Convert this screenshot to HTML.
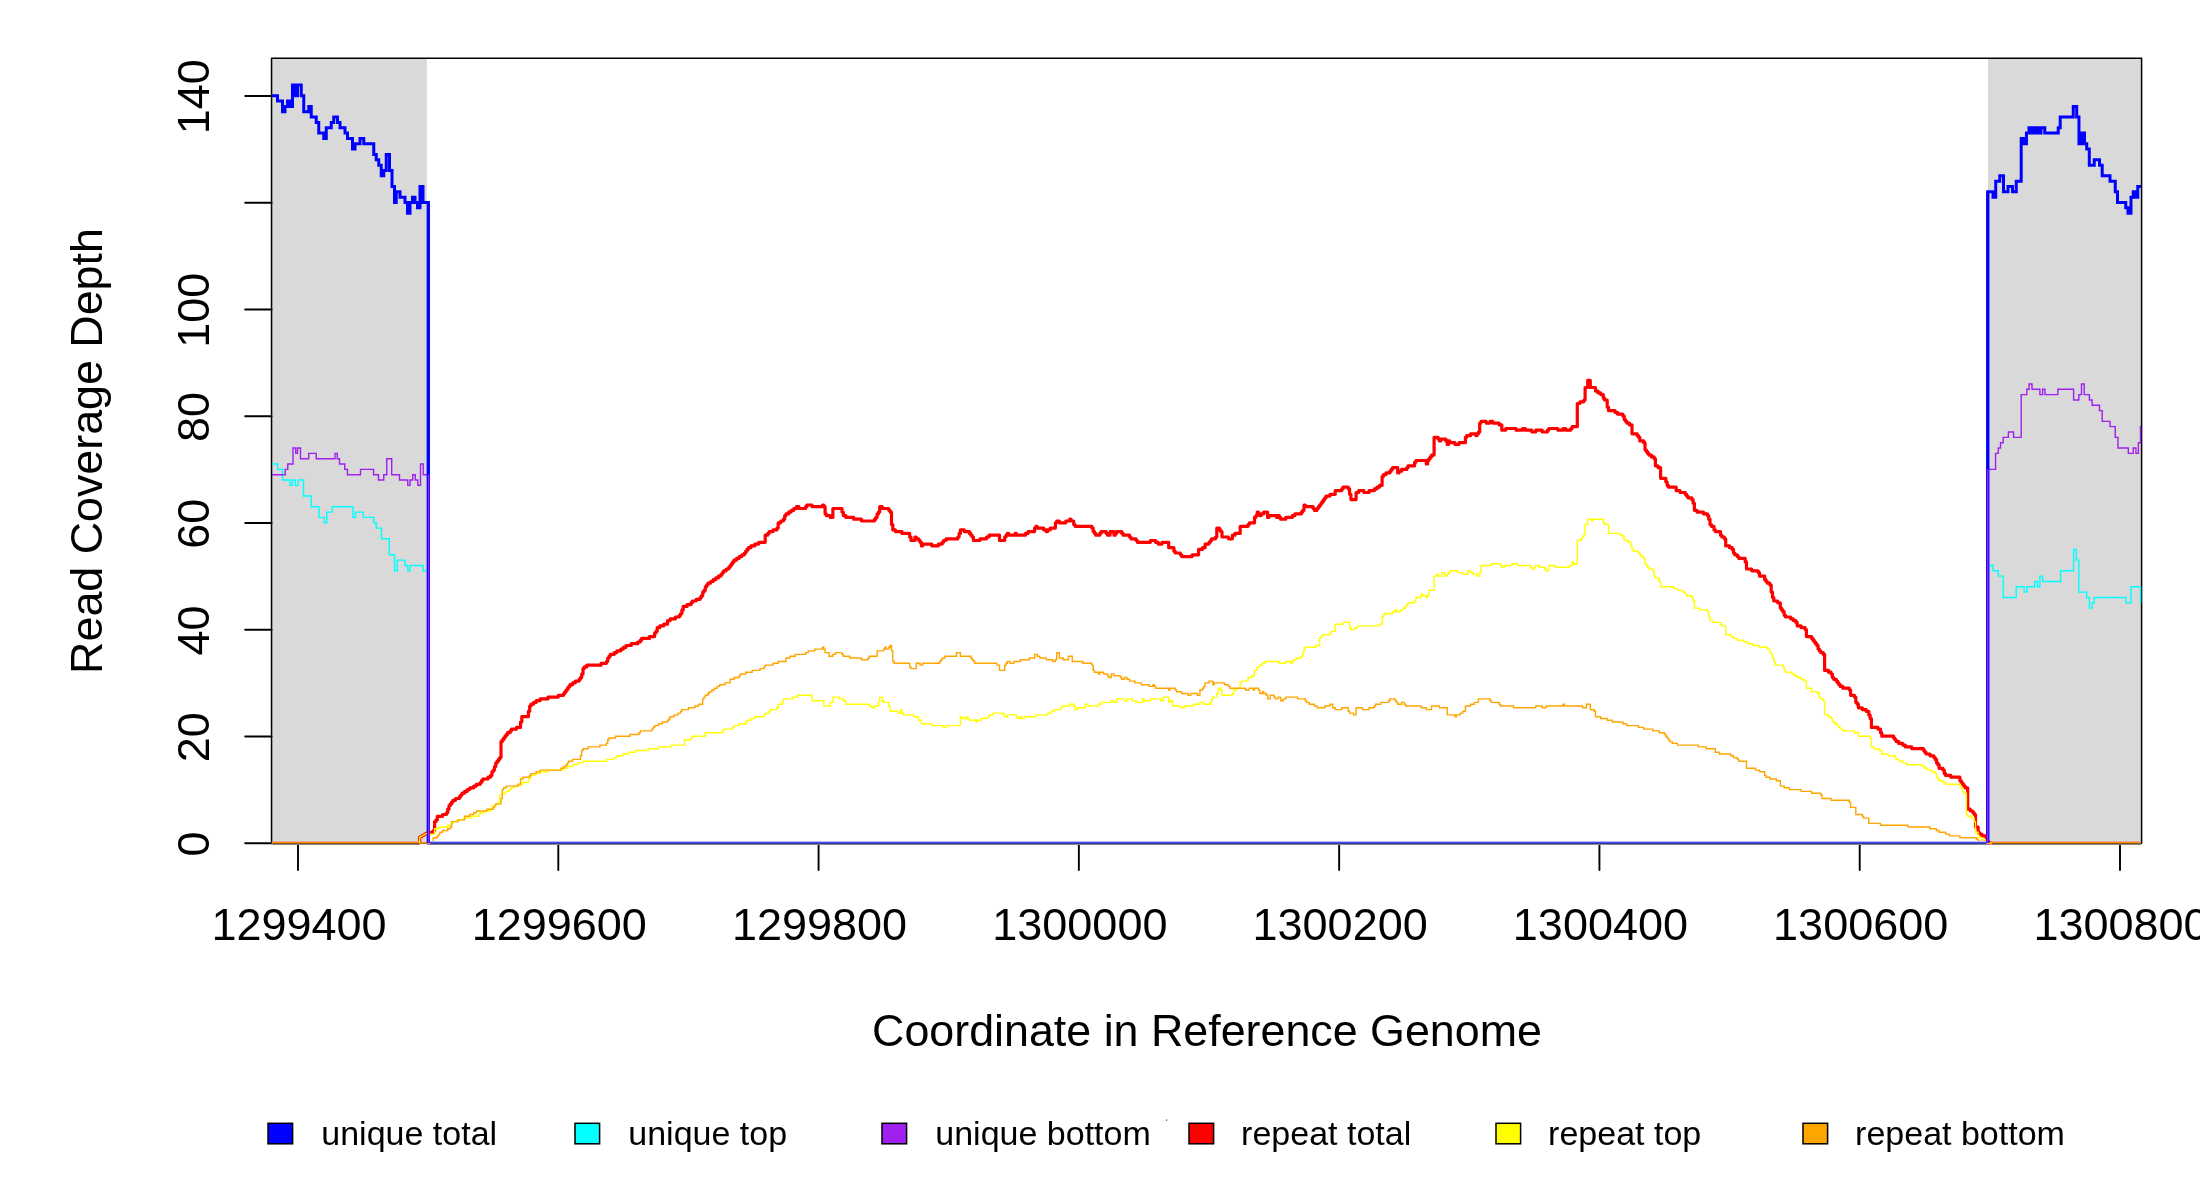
<!DOCTYPE html><html><head><meta charset="utf-8"><title>Read Coverage Depth</title><style>
html,body{margin:0;padding:0;background:#fff;}body{width:2200px;height:1200px;overflow:hidden;}svg{display:block;will-change:transform;transform:translateZ(0);}text{font-family:"Liberation Sans",sans-serif;fill:#000;}
</style></head><body>
<svg width="2200" height="1200" viewBox="0 0 2200 1200">
<rect x="0" y="0" width="2200" height="1200" fill="#fff"/>
<rect x="271.75" y="58.5" width="155.1" height="784.5" fill="#d9d9d9"/>
<rect x="1988" y="58.5" width="153" height="784.5" fill="#d9d9d9"/>
<rect x="271.55" y="58.3" width="1870.05" height="785" fill="none" stroke="#000" stroke-width="1.5" stroke-linejoin="round"/>
<g stroke="#000" stroke-width="1.9" fill="none" stroke-linecap="round"><path d="M298.00 843.2V870"/><path d="M558.29 843.2V870"/><path d="M818.57 843.2V870"/><path d="M1078.86 843.2V870"/><path d="M1339.14 843.2V870"/><path d="M1599.43 843.2V870"/><path d="M1859.71 843.2V870"/><path d="M2120.00 843.2V870"/><path d="M271.55 843.20H245.2"/><path d="M271.55 736.45H245.2"/><path d="M271.55 629.70H245.2"/><path d="M271.55 522.95H245.2"/><path d="M271.55 416.20H245.2"/><path d="M271.55 309.45H245.2"/><path d="M271.55 202.70H245.2"/><path d="M271.55 95.95H245.2"/></g>
<g fill="none" stroke-linejoin="miter" stroke-linecap="butt">
<path d="M271.75 95.75H277.50V101.09H282.50V111.76H285.00V106.42H287.50V101.09H290.00V106.42H292.50V85.07H295.00V95.75H297.50V85.07H301.25V95.75H303.75V111.76H308.75V106.42H311.25V117.10H316.25V122.44H318.75V133.11H323.75V138.45H326.25V127.77H331.25V122.44H333.75V117.10H337.50V122.44H340.00V127.77H345.00V133.11H347.50V138.45H352.50V149.12H355.00V143.79H360.00V138.45H363.75V143.79H373.75V154.46H376.25V159.80H378.75V165.14H381.25V175.81H383.75V170.47H386.25V154.46H389.50V170.47H392.00V186.49H394.50V202.50H396.25V191.82H400.00V197.16H405.00V202.50H407.50V213.17H410.00V202.50H412.50V197.16H415.00V202.50H417.50V207.84H420.00V186.49H423.00V202.50H428.30V843.00H1987.75V191.82H1993.00V197.16H1995.70V181.15H1999.75V175.81H2003.50V191.82H2008.00V186.49H2012.50V191.82H2016.25V181.15H2021.20V138.45H2023.75V143.79H2026.45V133.11H2029.00V127.77H2031.25V133.11H2033.00V127.77H2034.50V133.11H2036.00V127.77H2037.50V133.11H2039.00V127.77H2040.00V133.11H2041.00V127.77H2044.75V133.11H2058.25V127.77H2060.20V117.10H2073.25V106.42H2076.70V117.10H2078.95V143.79H2080.75V133.11H2082.00V143.79H2083.00V133.11H2084.50V143.79H2086.75V149.12H2089.30V165.14H2094.25V159.80H2099.50V165.14H2102.20V175.81H2110.00V181.15H2115.25V191.82H2117.50V202.50H2125.75V207.84H2128.00V213.17H2131.00V197.16H2133.25V191.82H2135.50V197.16H2137.75V186.49H2141.00V186.49" stroke="#0000ff" stroke-width="3"/>
<path d="M272.00 464.04H277.70V469.38H282.50V480.05H290.00V485.39H292.25V480.05H295.25V485.39H298.25V480.05H303.50V496.06H311.30V506.74H318.95V517.41H324.20V522.75H326.75V512.08H332.30V506.74H353.00V517.41H355.55V512.08H363.20V517.41H373.70V522.75H376.25V528.09H381.50V538.76H389.30V554.77H394.55V570.79H397.25V560.11H405.05V565.45H407.75V570.79H410.00V565.45H423.20V570.79H428.00V843.00H1988.00V565.45H1993.10V570.79H1998.25V576.12H2003.20V597.48H2016.25V586.80H2024.10V592.14H2026.80V586.80H2034.70V581.46H2037.60V586.80H2039.90V576.12H2042.60V581.46H2060.60V570.79H2073.60V549.44H2076.30V560.11H2078.80V592.14H2086.70V597.48H2089.40V608.15H2092.10V602.81H2094.30V597.48H2125.80V602.81H2131.00V586.80H2140.50V602.81H2141.00V602.81" stroke="#00ffff" stroke-width="1.4"/>
<path d="M272.00 474.71H285.20V469.38H287.75V464.04H293.00V448.02H295.70V453.36H297.50V448.02H300.50V458.70H308.75V453.36H316.25V458.70H335.00V453.36H337.25V458.70H339.50V464.04H344.75V469.38H347.45V474.71H360.50V469.38H373.55V474.71H378.50V480.05H383.75V474.71H386.75V458.70H391.70V474.71H399.50V480.05H407.75V485.39H410.00V480.05H412.70V474.71H415.25V480.05H417.80V485.39H420.50V464.04H423.20V474.71H428.00V843.00H1988.00V469.38H1995.55V453.36H1998.25V448.02H2000.50V442.69H2003.20V437.35H2008.40V432.01H2013.55V437.35H2021.20V394.65H2026.80V389.31H2029.10V383.97H2032.00V389.31H2039.90V394.65H2042.60V389.31H2045.00V394.65H2057.90V389.31H2073.60V399.99H2078.80V394.65H2081.50V383.97H2084.20V394.65H2089.40V399.99H2092.10V405.32H2099.50V410.66H2102.20V421.34H2110.00V426.67H2115.25V437.35H2117.95V448.02H2128.30V453.36H2133.25V448.02H2135.95V453.36H2138.40V442.69H2140.50V426.67H2141.00V426.67" stroke="#a020f0" stroke-width="1.4"/>
<path d="M271.8 843.0L419.6 843.0L419.6 837.5L426.5 833.5L428.1 832.3L432.0 832.3L433.3 832.3L433.3 830.5L434.6 830.5L434.6 821.6L436.0 821.6L436.0 819.9L437.3 819.9L437.3 816.3L441.2 816.3L442.5 816.3L442.5 814.5L445.1 814.5L446.4 814.5L446.4 812.8L447.7 812.8L447.7 809.2L449.0 809.2L449.0 805.6L450.3 805.6L450.3 803.9L451.6 803.9L451.6 802.1L452.9 802.1L452.9 800.3L454.2 800.3L455.5 800.3L455.5 798.5L458.1 798.5L459.4 798.5L459.4 796.7L460.7 796.7L460.7 795.0L462.0 795.0L462.0 793.2L463.3 793.2L464.6 793.2L464.6 791.4L465.9 791.4L467.2 791.4L467.2 789.6L468.5 789.6L469.8 789.6L469.8 787.8L472.4 787.8L473.7 787.8L473.7 786.1L475.0 786.1L476.3 786.1L476.3 784.3L478.9 784.3L480.2 784.3L480.2 782.5L481.5 782.5L481.5 780.7L482.8 780.7L482.8 779.0L486.7 779.0L488.0 779.0L488.0 777.2L489.3 777.2L490.6 777.2L490.6 775.4L491.9 775.4L491.9 771.8L493.2 771.8L493.2 770.1L494.5 770.1L494.5 766.5L495.8 766.5L495.8 762.9L497.1 762.9L497.1 761.2L498.4 761.2L498.4 759.4L499.7 759.4L499.7 757.6L501.0 757.6L501.0 741.6L502.3 741.6L502.3 739.8L503.6 739.8L503.6 738.0L504.9 738.0L504.9 736.2L506.2 736.2L506.2 734.5L507.5 734.5L507.5 732.7L508.8 732.7L510.1 732.7L510.1 730.9L511.4 730.9L511.4 729.1L515.3 729.1L516.6 729.1L516.6 727.4L519.2 727.4L520.5 727.4L520.5 722.0L521.8 722.0L521.8 716.7L527.1 716.7L528.4 716.7L528.4 711.3L529.7 711.3L529.7 706.0L531.0 706.0L531.0 704.2L532.3 704.2L533.6 704.2L533.6 702.4L534.9 702.4L536.2 702.4L536.2 700.7L538.8 700.7L540.1 700.7L540.1 698.9L546.6 698.9L547.9 698.9L547.9 697.1L557.0 697.1L558.3 697.1L558.3 695.3L562.2 695.3L563.5 695.3L563.5 693.5L564.8 693.5L564.8 691.8L566.1 691.8L566.1 690.0L567.4 690.0L567.4 688.2L568.7 688.2L568.7 686.4L570.0 686.4L570.0 684.7L571.3 684.7L572.6 684.7L572.6 682.9L573.9 682.9L575.2 682.9L575.2 681.1L577.8 681.1L579.1 681.1L579.1 679.3L580.4 679.3L580.4 677.5L581.7 677.5L581.7 674.0L583.0 674.0L583.0 668.6L584.3 668.6L584.3 666.9L585.6 666.9L586.9 666.9L586.9 665.1L599.9 665.1L601.2 665.1L601.2 663.3L605.1 663.3L606.4 663.3L606.4 661.5L607.7 661.5L607.7 658.0L609.0 658.0L609.0 656.2L610.3 656.2L610.3 654.4L612.9 654.4L614.2 654.4L614.2 652.6L615.5 652.6L616.8 652.6L616.8 650.9L619.5 650.9L620.8 650.9L620.8 649.1L622.1 649.1L623.4 649.1L623.4 647.3L624.7 647.3L626.0 647.3L626.0 645.5L629.9 645.5L631.2 645.5L631.2 643.7L636.4 643.7L637.7 643.7L637.7 642.0L639.0 642.0L640.3 642.0L640.3 640.2L641.6 640.2L641.6 638.4L648.1 638.4L649.4 638.4L649.4 636.6L653.3 636.6L654.6 636.6L654.6 633.1L655.9 633.1L655.9 631.3L657.2 631.3L657.2 627.7L658.5 627.7L659.8 627.7L659.8 625.9L662.4 625.9L663.7 625.9L663.7 624.2L666.3 624.2L667.6 624.2L667.6 620.6L668.9 620.6L670.2 620.6L670.2 618.8L674.1 618.8L675.4 618.8L675.4 617.0L678.0 617.0L679.3 617.0L679.3 615.3L680.6 615.3L680.6 613.5L681.9 613.5L681.9 609.9L683.2 609.9L683.2 606.4L685.8 606.4L687.1 606.4L687.1 604.6L689.7 604.6L691.0 604.6L691.0 602.8L692.3 602.8L692.3 601.0L694.9 601.0L696.2 601.0L696.2 599.3L698.8 599.3L700.1 599.3L700.1 597.5L701.4 597.5L701.4 595.7L702.7 595.7L702.7 592.1L704.0 592.1L704.0 590.4L705.3 590.4L705.3 586.8L706.6 586.8L706.6 585.0L707.9 585.0L707.9 583.2L709.3 583.2L710.6 583.2L710.6 581.5L711.9 581.5L713.2 581.5L713.2 579.7L714.5 579.7L715.8 579.7L715.8 577.9L717.1 577.9L718.4 577.9L718.4 576.1L719.7 576.1L721.0 576.1L721.0 574.3L722.3 574.3L722.3 572.6L723.6 572.6L723.6 570.8L724.9 570.8L726.2 570.8L726.2 569.0L727.5 569.0L728.8 569.0L728.8 567.2L730.1 567.2L730.1 565.5L731.4 565.5L731.4 563.7L732.7 563.7L732.7 561.9L734.0 561.9L734.0 560.1L735.3 560.1L736.6 560.1L736.6 558.3L737.9 558.3L739.2 558.3L739.2 556.6L740.5 556.6L741.8 556.6L741.8 554.8L743.1 554.8L744.4 554.8L744.4 553.0L745.7 553.0L745.7 551.2L747.0 551.2L747.0 549.4L748.3 549.4L748.3 547.7L749.6 547.7L750.9 547.7L750.9 545.9L753.5 545.9L754.8 545.9L754.8 544.1L757.4 544.1L758.7 544.1L758.7 542.3L763.9 542.3L765.2 542.3L765.2 535.2L766.5 535.2L767.8 535.2L767.8 533.4L769.1 533.4L769.1 531.6L771.7 531.6L773.0 531.6L773.0 529.9L775.6 529.9L776.9 529.9L776.9 528.1L778.2 528.1L778.2 522.8L779.5 522.8L780.8 522.8L780.8 521.0L782.1 521.0L783.4 521.0L783.4 519.2L784.7 519.2L784.7 515.6L786.0 515.6L786.0 513.9L787.3 513.9L788.6 513.9L788.6 512.1L789.9 512.1L791.2 512.1L791.2 510.3L792.5 510.3L793.8 510.3L793.8 508.5L795.1 508.5L796.4 508.5L796.4 506.7L797.7 506.7L799.0 506.7L799.0 508.5L804.3 508.5L805.6 508.5L805.6 506.7L806.9 506.7L806.9 505.0L810.8 505.0L812.1 505.0L812.1 506.7L821.2 506.7L822.5 506.7L822.5 505.0L823.8 505.0L823.8 506.7L825.1 506.7L825.1 513.9L826.4 513.9L826.4 515.6L829.0 515.6L830.3 515.6L830.3 517.4L831.6 517.4L832.9 517.4L832.9 508.5L840.7 508.5L842.0 508.5L842.0 512.1L843.3 512.1L843.3 515.6L844.6 515.6L845.9 515.6L845.9 517.4L852.4 517.4L853.7 517.4L853.7 519.2L860.2 519.2L861.5 519.2L861.5 521.0L873.2 521.0L874.5 521.0L874.5 519.2L875.8 519.2L875.8 517.4L877.1 517.4L877.1 513.9L878.4 513.9L878.4 512.1L879.7 512.1L879.7 506.7L881.0 506.7L882.3 506.7L882.3 508.5L887.5 508.5L888.8 508.5L888.8 510.3L890.1 510.3L890.1 512.1L891.5 512.1L891.5 524.5L892.8 524.5L892.8 529.9L894.1 529.9L895.4 529.9L895.4 531.6L900.6 531.6L901.9 531.6L901.9 533.4L908.4 533.4L909.7 533.4L909.7 537.0L911.0 537.0L911.0 540.5L913.6 540.5L914.9 540.5L914.9 537.0L916.2 537.0L916.2 538.8L917.5 538.8L918.8 538.8L918.8 540.5L920.1 540.5L920.1 542.3L921.4 542.3L921.4 545.9L922.7 545.9L922.7 544.1L930.5 544.1L931.8 544.1L931.8 545.9L937.0 545.9L938.3 545.9L938.3 544.1L940.9 544.1L942.2 544.1L942.2 542.3L943.5 542.3L943.5 540.5L944.8 540.5L946.1 540.5L946.1 538.8L956.5 538.8L957.8 538.8L957.8 537.0L959.1 537.0L959.1 533.4L960.4 533.4L960.4 529.9L963.0 529.9L964.3 529.9L964.3 531.6L968.2 531.6L969.5 531.6L969.5 533.4L970.8 533.4L970.8 535.2L972.1 535.2L972.1 537.0L973.4 537.0L973.4 540.5L978.6 540.5L979.9 540.5L979.9 538.8L985.2 538.8L986.5 538.8L986.5 537.0L987.8 537.0L989.1 537.0L989.1 535.2L998.2 535.2L999.5 535.2L999.5 540.5L1003.4 540.5L1004.7 540.5L1004.7 537.0L1006.0 537.0L1006.0 535.2L1007.3 535.2L1007.3 533.4L1008.6 533.4L1008.6 535.2L1013.8 535.2L1015.1 535.2L1015.1 533.4L1016.4 533.4L1016.4 535.2L1024.2 535.2L1025.5 535.2L1025.5 533.4L1026.8 533.4L1028.1 533.4L1028.1 531.6L1033.3 531.6L1034.6 531.6L1034.6 528.1L1035.9 528.1L1035.9 526.3L1037.2 526.3L1037.2 528.1L1042.4 528.1L1043.7 528.1L1043.7 529.9L1045.0 529.9L1046.3 529.9L1046.3 531.6L1047.6 531.6L1047.6 529.9L1048.9 529.9L1050.2 529.9L1050.2 528.1L1054.1 528.1L1055.4 528.1L1055.4 522.8L1056.7 522.8L1056.7 521.0L1058.0 521.0L1059.3 521.0L1059.3 522.8L1064.5 522.8L1065.8 522.8L1065.8 521.0L1068.4 521.0L1069.7 521.0L1069.7 519.2L1071.0 519.2L1071.0 521.0L1072.3 521.0L1073.7 521.0L1073.7 524.5L1075.0 524.5L1075.0 526.3L1090.6 526.3L1091.9 526.3L1091.9 528.1L1093.2 528.1L1093.2 531.6L1094.5 531.6L1094.5 533.4L1095.8 533.4L1095.8 535.2L1098.4 535.2L1099.7 535.2L1099.7 533.4L1101.0 533.4L1101.0 531.6L1104.9 531.6L1106.2 531.6L1106.2 533.4L1107.5 533.4L1107.5 535.2L1108.8 535.2L1110.1 535.2L1110.1 531.6L1112.7 531.6L1114.0 531.6L1114.0 535.2L1115.3 535.2L1115.3 533.4L1116.6 533.4L1116.6 531.6L1120.5 531.6L1121.8 531.6L1121.8 533.4L1123.1 533.4L1123.1 535.2L1128.3 535.2L1129.6 535.2L1129.6 537.0L1130.9 537.0L1130.9 538.8L1134.8 538.8L1136.1 538.8L1136.1 540.5L1137.4 540.5L1137.4 542.3L1149.1 542.3L1150.4 542.3L1150.4 540.5L1154.3 540.5L1155.6 540.5L1155.6 542.3L1156.9 542.3L1158.2 542.3L1158.2 544.1L1160.8 544.1L1162.1 544.1L1162.1 542.3L1167.4 542.3L1168.7 542.3L1168.7 547.7L1172.6 547.7L1173.9 547.7L1173.9 551.2L1175.2 551.2L1175.2 553.0L1179.1 553.0L1180.4 553.0L1180.4 554.8L1181.7 554.8L1181.7 556.6L1190.8 556.6L1192.1 556.6L1192.1 554.8L1197.3 554.8L1198.6 554.8L1198.6 549.4L1201.2 549.4L1202.5 549.4L1202.5 547.7L1203.8 547.7L1205.1 547.7L1205.1 544.1L1207.7 544.1L1209.0 544.1L1209.0 542.3L1210.3 542.3L1210.3 540.5L1211.6 540.5L1211.6 538.8L1214.2 538.8L1215.5 538.8L1215.5 537.0L1216.8 537.0L1216.8 528.1L1218.1 528.1L1219.4 528.1L1219.4 529.9L1220.7 529.9L1220.7 531.6L1222.0 531.6L1222.0 537.0L1227.2 537.0L1228.5 537.0L1228.5 538.8L1231.1 538.8L1232.4 538.8L1232.4 535.2L1233.7 535.2L1235.0 535.2L1235.0 533.4L1238.9 533.4L1240.2 533.4L1240.2 526.3L1246.7 526.3L1248.0 526.3L1248.0 524.5L1249.3 524.5L1249.3 522.8L1253.2 522.8L1254.5 522.8L1254.5 517.4L1255.9 517.4L1255.9 515.6L1257.2 515.6L1257.2 512.1L1258.5 512.1L1258.5 513.9L1259.8 513.9L1259.8 515.6L1261.1 515.6L1261.1 513.9L1262.4 513.9L1263.7 513.9L1263.7 512.1L1266.3 512.1L1267.6 512.1L1267.6 517.4L1268.9 517.4L1268.9 515.6L1275.4 515.6L1276.7 515.6L1276.7 517.4L1278.0 517.4L1278.0 515.6L1279.3 515.6L1279.3 517.4L1280.6 517.4L1280.6 519.2L1284.5 519.2L1285.8 519.2L1285.8 517.4L1291.0 517.4L1292.3 517.4L1292.3 515.6L1293.6 515.6L1294.9 515.6L1294.9 513.9L1300.1 513.9L1301.4 513.9L1301.4 512.1L1302.7 512.1L1302.7 510.3L1304.0 510.3L1304.0 505.0L1305.3 505.0L1305.3 506.7L1311.8 506.7L1313.1 506.7L1313.1 508.5L1314.4 508.5L1314.4 510.3L1315.7 510.3L1317.0 510.3L1317.0 508.5L1318.3 508.5L1318.3 506.7L1319.6 506.7L1319.6 505.0L1320.9 505.0L1320.9 503.2L1322.2 503.2L1322.2 501.4L1323.5 501.4L1323.5 499.6L1324.8 499.6L1324.8 497.8L1326.1 497.8L1326.1 496.1L1328.7 496.1L1330.0 496.1L1330.0 494.3L1333.9 494.3L1335.2 494.3L1335.2 490.7L1340.4 490.7L1341.7 490.7L1341.7 488.9L1343.0 488.9L1343.0 487.2L1347.0 487.2L1348.3 487.2L1348.3 488.9L1349.6 488.9L1349.6 494.3L1350.9 494.3L1350.9 499.6L1354.8 499.6L1356.1 499.6L1356.1 492.5L1357.4 492.5L1358.7 492.5L1358.7 490.7L1362.6 490.7L1363.9 490.7L1363.9 492.5L1367.8 492.5L1369.1 492.5L1369.1 490.7L1373.0 490.7L1374.3 490.7L1374.3 488.9L1375.6 488.9L1376.9 488.9L1376.9 487.2L1378.2 487.2L1379.5 487.2L1379.5 485.4L1380.8 485.4L1382.1 485.4L1382.1 476.5L1383.4 476.5L1383.4 474.7L1384.7 474.7L1386.0 474.7L1386.0 472.9L1388.6 472.9L1389.9 472.9L1389.9 471.2L1391.2 471.2L1391.2 469.4L1392.5 469.4L1392.5 467.6L1396.4 467.6L1397.7 467.6L1397.7 472.9L1399.0 472.9L1399.0 471.2L1400.3 471.2L1401.6 471.2L1401.6 469.4L1405.5 469.4L1406.8 469.4L1406.8 467.6L1408.1 467.6L1408.1 465.8L1413.3 465.8L1414.6 465.8L1414.6 462.3L1415.9 462.3L1415.9 460.5L1425.0 460.5L1426.3 460.5L1426.3 464.0L1427.6 464.0L1427.6 460.5L1428.9 460.5L1428.9 458.7L1430.2 458.7L1430.2 456.9L1431.5 456.9L1431.5 455.1L1432.8 455.1L1434.1 455.1L1434.1 437.3L1436.7 437.3L1438.1 437.3L1438.1 439.1L1439.4 439.1L1439.4 440.9L1440.7 440.9L1440.7 439.1L1444.6 439.1L1445.9 439.1L1445.9 440.9L1447.2 440.9L1447.2 444.5L1448.5 444.5L1448.5 440.9L1449.8 440.9L1449.8 442.7L1453.7 442.7L1455.0 442.7L1455.0 444.5L1457.6 444.5L1458.9 444.5L1458.9 442.7L1464.1 442.7L1465.4 442.7L1465.4 437.3L1466.7 437.3L1466.7 435.6L1469.3 435.6L1470.6 435.6L1470.6 433.8L1474.5 433.8L1475.8 433.8L1475.8 435.6L1477.1 435.6L1477.1 433.8L1478.4 433.8L1478.4 432.0L1479.7 432.0L1479.7 423.1L1481.0 423.1L1481.0 421.3L1484.9 421.3L1486.2 421.3L1486.2 423.1L1488.8 423.1L1490.1 423.1L1490.1 421.3L1491.4 421.3L1492.7 421.3L1492.7 423.1L1497.9 423.1L1499.2 423.1L1499.2 424.9L1500.5 424.9L1501.8 424.9L1501.8 430.2L1504.4 430.2L1505.7 430.2L1505.7 428.5L1514.8 428.5L1516.1 428.5L1516.1 430.2L1521.3 430.2L1522.6 430.2L1522.6 428.5L1523.9 428.5L1525.2 428.5L1525.2 430.2L1530.5 430.2L1531.8 430.2L1531.8 432.0L1534.4 432.0L1535.7 432.0L1535.7 430.2L1540.9 430.2L1542.2 430.2L1542.2 432.0L1546.1 432.0L1547.4 432.0L1547.4 430.2L1548.7 430.2L1548.7 428.5L1556.5 428.5L1557.8 428.5L1557.8 430.2L1561.7 430.2L1563.0 430.2L1563.0 428.5L1564.3 428.5L1565.6 428.5L1565.6 430.2L1569.5 430.2L1570.8 430.2L1570.8 428.5L1572.1 428.5L1572.1 426.7L1576.0 426.7L1577.3 426.7L1577.3 403.5L1578.6 403.5L1579.9 403.5L1579.9 401.8L1582.5 401.8L1583.8 401.8L1583.8 400.0L1585.1 400.0L1585.1 387.5L1586.4 387.5L1587.7 387.5L1587.7 380.4L1589.0 380.4L1590.3 380.4L1590.3 387.5L1594.2 387.5L1595.5 387.5L1595.5 391.1L1596.8 391.1L1598.1 391.1L1598.1 392.9L1599.4 392.9L1600.7 392.9L1600.7 394.6L1602.0 394.6L1603.3 394.6L1603.3 398.2L1604.6 398.2L1604.6 400.0L1605.9 400.0L1607.2 400.0L1607.2 407.1L1608.5 407.1L1608.5 410.7L1613.7 410.7L1615.0 410.7L1615.0 412.4L1616.3 412.4L1617.6 412.4L1617.6 414.2L1621.6 414.2L1622.9 414.2L1622.9 416.0L1624.2 416.0L1624.2 419.6L1625.5 419.6L1625.5 421.3L1626.8 421.3L1626.8 423.1L1628.1 423.1L1629.4 423.1L1629.4 424.9L1630.7 424.9L1632.0 424.9L1632.0 433.8L1635.9 433.8L1637.2 433.8L1637.2 435.6L1638.5 435.6L1638.5 437.3L1639.8 437.3L1639.8 440.9L1642.4 440.9L1643.7 440.9L1643.7 442.7L1645.0 442.7L1645.0 449.8L1646.3 449.8L1646.3 451.6L1647.6 451.6L1647.6 453.4L1648.9 453.4L1648.9 455.1L1650.2 455.1L1651.5 455.1L1651.5 456.9L1652.8 456.9L1654.1 456.9L1654.1 458.7L1655.4 458.7L1655.4 465.8L1656.7 465.8L1658.0 465.8L1658.0 467.6L1659.3 467.6L1660.6 467.6L1660.6 478.3L1664.5 478.3L1665.8 478.3L1665.8 481.8L1667.1 481.8L1667.1 485.4L1668.4 485.4L1668.4 487.2L1674.9 487.2L1676.2 487.2L1676.2 490.7L1678.8 490.7L1680.1 490.7L1680.1 492.5L1684.0 492.5L1685.3 492.5L1685.3 494.3L1686.6 494.3L1686.6 496.1L1687.9 496.1L1687.9 497.8L1690.5 497.8L1691.8 497.8L1691.8 499.6L1693.1 499.6L1693.1 503.2L1694.4 503.2L1694.4 510.3L1695.7 510.3L1697.0 510.3L1697.0 512.1L1702.2 512.1L1703.5 512.1L1703.5 513.9L1706.1 513.9L1707.4 513.9L1707.4 515.6L1708.7 515.6L1708.7 519.2L1710.0 519.2L1710.0 524.5L1711.4 524.5L1711.4 526.3L1712.7 526.3L1714.0 526.3L1714.0 529.9L1715.3 529.9L1715.3 531.6L1719.2 531.6L1720.5 531.6L1720.5 535.2L1721.8 535.2L1721.8 537.0L1723.1 537.0L1724.4 537.0L1724.4 538.8L1725.7 538.8L1725.7 545.9L1728.3 545.9L1729.6 545.9L1729.6 547.7L1730.9 547.7L1732.2 547.7L1732.2 549.4L1733.5 549.4L1733.5 553.0L1734.8 553.0L1734.8 554.8L1736.1 554.8L1737.4 554.8L1737.4 556.6L1738.7 556.6L1738.7 558.3L1743.9 558.3L1745.2 558.3L1745.2 561.9L1746.5 561.9L1746.5 569.0L1750.4 569.0L1751.7 569.0L1751.7 570.8L1756.9 570.8L1758.2 570.8L1758.2 572.6L1759.5 572.6L1759.5 576.1L1763.4 576.1L1764.7 576.1L1764.7 579.7L1766.0 579.7L1766.0 581.5L1767.3 581.5L1767.3 583.2L1768.6 583.2L1769.9 583.2L1769.9 585.0L1771.2 585.0L1771.2 592.1L1772.5 592.1L1772.5 597.5L1773.8 597.5L1773.8 601.0L1776.4 601.0L1777.7 601.0L1777.7 602.8L1779.0 602.8L1780.3 602.8L1780.3 608.1L1781.6 608.1L1781.6 609.9L1782.9 609.9L1782.9 611.7L1784.2 611.7L1784.2 615.3L1785.5 615.3L1785.5 617.0L1789.4 617.0L1790.7 617.0L1790.7 618.8L1792.0 618.8L1793.3 618.8L1793.3 620.6L1794.6 620.6L1795.9 620.6L1795.9 622.4L1797.2 622.4L1797.2 625.9L1799.8 625.9L1801.1 625.9L1801.1 627.7L1803.8 627.7L1805.1 627.7L1805.1 629.5L1806.4 629.5L1806.4 636.6L1810.3 636.6L1811.6 636.6L1811.6 638.4L1812.9 638.4L1812.9 640.2L1814.2 640.2L1814.2 642.0L1815.5 642.0L1815.5 643.7L1816.8 643.7L1816.8 645.5L1818.1 645.5L1818.1 649.1L1819.4 649.1L1819.4 650.9L1820.7 650.9L1820.7 652.6L1822.0 652.6L1823.3 652.6L1823.3 654.4L1824.6 654.4L1824.6 670.4L1827.2 670.4L1828.5 670.4L1828.5 672.2L1829.8 672.2L1831.1 672.2L1831.1 674.0L1832.4 674.0L1832.4 677.5L1833.7 677.5L1833.7 679.3L1835.0 679.3L1836.3 679.3L1836.3 681.1L1837.6 681.1L1837.6 682.9L1838.9 682.9L1838.9 684.7L1840.2 684.7L1840.2 686.4L1841.5 686.4L1842.8 686.4L1842.8 688.2L1848.0 688.2L1849.3 688.2L1849.3 690.0L1850.6 690.0L1850.6 695.3L1853.2 695.3L1854.5 695.3L1854.5 697.1L1855.8 697.1L1855.8 702.4L1857.1 702.4L1857.1 704.2L1858.4 704.2L1858.4 707.8L1861.0 707.8L1862.3 707.8L1862.3 709.6L1864.9 709.6L1866.2 709.6L1866.2 711.3L1867.5 711.3L1868.8 711.3L1868.8 714.9L1870.1 714.9L1870.1 718.5L1871.4 718.5L1871.4 727.4L1876.6 727.4L1877.9 727.4L1877.9 729.1L1879.2 729.1L1880.5 729.1L1880.5 732.7L1881.8 732.7L1881.8 736.2L1892.2 736.2L1893.6 736.2L1893.6 738.0L1894.9 738.0L1894.9 739.8L1896.2 739.8L1896.2 741.6L1897.5 741.6L1898.8 741.6L1898.8 743.4L1901.4 743.4L1902.7 743.4L1902.7 745.1L1904.0 745.1L1905.3 745.1L1905.3 746.9L1910.5 746.9L1911.8 746.9L1911.8 748.7L1922.2 748.7L1923.5 748.7L1923.5 750.5L1924.8 750.5L1924.8 752.3L1926.1 752.3L1926.1 754.0L1928.7 754.0L1930.0 754.0L1930.0 755.8L1932.6 755.8L1933.9 755.8L1933.9 757.6L1935.2 757.6L1935.2 759.4L1936.5 759.4L1936.5 762.9L1937.8 762.9L1937.8 764.7L1939.1 764.7L1939.1 768.3L1941.7 768.3L1943.0 768.3L1943.0 770.1L1944.3 770.1L1944.3 773.6L1945.6 773.6L1945.6 775.4L1949.5 775.4L1950.8 775.4L1950.8 777.2L1958.6 777.2L1959.9 777.2L1959.9 780.7L1961.2 780.7L1961.2 782.5L1962.5 782.5L1962.5 784.3L1963.8 784.3L1963.8 786.1L1965.1 786.1L1965.1 787.8L1966.4 787.8L1967.7 787.8L1967.7 809.2L1969.0 809.2L1970.3 809.2L1970.3 811.0L1971.6 811.0L1972.9 811.0L1972.9 812.8L1974.2 812.8L1974.2 814.5L1975.5 814.5L1975.5 827.0L1976.8 827.0L1978.1 827.0L1978.1 832.3L1979.4 832.3L1979.4 834.1L1980.7 834.1L1982.0 834.1L1982.0 835.9L1984.7 835.9L1986.0 835.9L1986.0 837.7L1987.3 837.7L1987.3 841.2L1988.6 841.2L1988.6 843.0L2141.0 843.0" stroke="#ff0000" stroke-width="3.2" stroke-linejoin="round"/>
<path d="M271.8 843.0L419.6 843.0L419.6 837.5L426.5 833.5L428.1 834.1L433.3 834.1L434.6 834.1L434.6 828.8L437.3 828.8L438.6 828.8L438.6 827.0L446.4 827.0L447.7 827.0L447.7 825.2L450.3 825.2L451.6 825.2L451.6 823.4L452.9 823.4L452.9 821.6L455.5 821.6L456.8 821.6L456.8 819.9L462.0 819.9L463.3 819.9L463.3 818.1L469.8 818.1L471.1 818.1L471.1 816.3L477.6 816.3L478.9 816.3L478.9 814.5L480.2 814.5L480.2 812.8L482.8 812.8L484.1 812.8L484.1 811.0L489.3 811.0L490.6 811.0L490.6 809.2L491.9 809.2L491.9 805.6L494.5 805.6L495.8 805.6L495.8 803.9L497.1 803.9L498.4 803.9L498.4 802.1L499.7 802.1L499.7 795.0L501.0 795.0L502.3 795.0L502.3 793.2L504.9 793.2L506.2 793.2L506.2 791.4L507.5 791.4L508.8 791.4L508.8 789.6L510.1 789.6L511.4 789.6L511.4 787.8L512.7 787.8L514.0 787.8L514.0 786.1L519.2 786.1L520.5 786.1L520.5 784.3L521.8 784.3L521.8 782.5L527.1 782.5L528.4 782.5L528.4 779.0L529.7 779.0L529.7 777.2L531.0 777.2L531.0 775.4L533.6 775.4L534.9 775.4L534.9 773.6L538.8 773.6L540.1 773.6L540.1 771.8L546.6 771.8L547.9 771.8L547.9 770.1L562.2 770.1L563.5 770.1L563.5 768.3L566.1 768.3L567.4 768.3L567.4 766.5L571.3 766.5L572.6 766.5L572.6 764.7L576.5 764.7L577.8 764.7L577.8 762.9L581.7 762.9L583.0 762.9L583.0 761.2L605.1 761.2L606.4 761.2L606.4 759.4L612.9 759.4L614.2 759.4L614.2 757.6L615.5 757.6L616.8 757.6L616.8 755.8L622.1 755.8L623.4 755.8L623.4 754.0L627.3 754.0L628.6 754.0L628.6 752.3L633.8 752.3L635.1 752.3L635.1 750.5L646.8 750.5L648.1 750.5L648.1 748.7L657.2 748.7L658.5 748.7L658.5 746.9L670.2 746.9L671.5 746.9L671.5 745.1L683.2 745.1L684.5 745.1L684.5 739.8L689.7 739.8L691.0 739.8L691.0 738.0L692.3 738.0L692.3 736.2L704.0 736.2L705.3 736.2L705.3 732.7L721.0 732.7L722.3 732.7L722.3 730.9L723.6 730.9L723.6 729.1L731.4 729.1L732.7 729.1L732.7 727.4L734.0 727.4L734.0 725.6L737.9 725.6L739.2 725.6L739.2 723.8L744.4 723.8L745.7 723.8L745.7 722.0L747.0 722.0L747.0 720.2L749.6 720.2L750.9 720.2L750.9 718.5L753.5 718.5L754.8 718.5L754.8 716.7L762.6 716.7L763.9 716.7L763.9 714.9L765.2 714.9L765.2 713.1L767.8 713.1L769.1 713.1L769.1 711.3L770.4 711.3L770.4 709.6L775.6 709.6L776.9 709.6L776.9 707.8L778.2 707.8L778.2 704.2L780.8 704.2L782.1 704.2L782.1 702.4L783.4 702.4L783.4 698.9L791.2 698.9L792.5 698.9L792.5 697.1L796.4 697.1L797.7 697.1L797.7 695.3L810.8 695.3L812.1 695.3L812.1 700.7L822.5 700.7L823.8 700.7L823.8 706.0L829.0 706.0L830.3 706.0L830.3 702.4L831.6 702.4L832.9 702.4L832.9 697.1L838.1 697.1L839.4 697.1L839.4 698.9L842.0 698.9L843.3 698.9L843.3 700.7L844.6 700.7L845.9 700.7L845.9 704.2L868.0 704.2L869.3 704.2L869.3 706.0L870.6 706.0L871.9 706.0L871.9 707.8L873.2 707.8L874.5 707.8L874.5 706.0L877.1 706.0L878.4 706.0L878.4 702.4L879.7 702.4L879.7 697.1L881.0 697.1L882.3 697.1L882.3 700.7L883.6 700.7L883.6 702.4L887.5 702.4L888.8 702.4L888.8 706.0L890.1 706.0L890.1 711.3L896.7 711.3L898.0 711.3L898.0 713.1L899.3 713.1L900.6 713.1L900.6 709.6L901.9 709.6L901.9 713.1L903.2 713.1L903.2 714.9L912.3 714.9L913.6 714.9L913.6 716.7L917.5 716.7L918.8 716.7L918.8 720.2L920.1 720.2L921.4 720.2L921.4 723.8L930.5 723.8L931.8 723.8L931.8 725.6L942.2 725.6L943.5 725.6L943.5 727.4L944.8 727.4L946.1 727.4L946.1 725.6L959.1 725.6L960.4 725.6L960.4 716.7L961.7 716.7L961.7 718.5L964.3 718.5L965.6 718.5L965.6 716.7L966.9 716.7L966.9 718.5L968.2 718.5L969.5 718.5L969.5 720.2L974.7 720.2L976.0 720.2L976.0 722.0L977.3 722.0L977.3 720.2L979.9 720.2L981.2 720.2L981.2 718.5L986.5 718.5L987.8 718.5L987.8 716.7L989.1 716.7L989.1 714.9L991.7 714.9L993.0 714.9L993.0 713.1L1002.1 713.1L1003.4 713.1L1003.4 714.9L1004.7 714.9L1004.7 716.7L1006.0 716.7L1007.3 716.7L1007.3 714.9L1015.1 714.9L1016.4 714.9L1016.4 716.7L1017.7 716.7L1017.7 718.5L1019.0 718.5L1020.3 718.5L1020.3 716.7L1021.6 716.7L1021.6 718.5L1022.9 718.5L1024.2 718.5L1024.2 716.7L1034.6 716.7L1035.9 716.7L1035.9 714.9L1046.3 714.9L1047.6 714.9L1047.6 713.1L1050.2 713.1L1051.5 713.1L1051.5 711.3L1052.8 711.3L1054.1 711.3L1054.1 709.6L1059.3 709.6L1060.6 709.6L1060.6 707.8L1061.9 707.8L1061.9 706.0L1068.4 706.0L1069.7 706.0L1069.7 704.2L1072.3 704.2L1073.7 704.2L1073.7 706.0L1075.0 706.0L1075.0 709.6L1076.3 709.6L1077.6 709.6L1077.6 707.8L1084.1 707.8L1085.4 707.8L1085.4 704.2L1086.7 704.2L1088.0 704.2L1088.0 706.0L1097.1 706.0L1098.4 706.0L1098.4 704.2L1099.7 704.2L1101.0 704.2L1101.0 702.4L1110.1 702.4L1111.4 702.4L1111.4 700.7L1112.7 700.7L1114.0 700.7L1114.0 702.4L1115.3 702.4L1116.6 702.4L1116.6 698.9L1123.1 698.9L1124.4 698.9L1124.4 700.7L1125.7 700.7L1127.0 700.7L1127.0 698.9L1130.9 698.9L1132.2 698.9L1132.2 700.7L1134.8 700.7L1136.1 700.7L1136.1 702.4L1141.3 702.4L1142.6 702.4L1142.6 698.9L1143.9 698.9L1143.9 700.7L1149.1 700.7L1150.4 700.7L1150.4 698.9L1159.5 698.9L1160.8 698.9L1160.8 700.7L1162.1 700.7L1163.4 700.7L1163.4 697.1L1167.4 697.1L1168.7 697.1L1168.7 702.4L1170.0 702.4L1170.0 700.7L1171.3 700.7L1172.6 700.7L1172.6 706.0L1179.1 706.0L1180.4 706.0L1180.4 707.8L1183.0 707.8L1184.3 707.8L1184.3 706.0L1192.1 706.0L1193.4 706.0L1193.4 704.2L1198.6 704.2L1199.9 704.2L1199.9 702.4L1202.5 702.4L1203.8 702.4L1203.8 704.2L1209.0 704.2L1210.3 704.2L1210.3 702.4L1211.6 702.4L1211.6 698.9L1212.9 698.9L1212.9 697.1L1215.5 697.1L1216.8 697.1L1216.8 693.5L1218.1 693.5L1218.1 688.2L1219.4 688.2L1220.7 688.2L1220.7 690.0L1222.0 690.0L1222.0 695.3L1231.1 695.3L1232.4 695.3L1232.4 693.5L1233.7 693.5L1233.7 690.0L1235.0 690.0L1236.3 690.0L1236.3 688.2L1238.9 688.2L1240.2 688.2L1240.2 682.9L1241.5 682.9L1241.5 681.1L1246.7 681.1L1248.0 681.1L1248.0 677.5L1250.6 677.5L1251.9 677.5L1251.9 675.8L1253.2 675.8L1254.5 675.8L1254.5 670.4L1255.9 670.4L1257.2 670.4L1257.2 666.9L1258.5 666.9L1259.8 666.9L1259.8 665.1L1261.1 665.1L1262.4 665.1L1262.4 663.3L1263.7 663.3L1265.0 663.3L1265.0 661.5L1278.0 661.5L1279.3 661.5L1279.3 663.3L1284.5 663.3L1285.8 663.3L1285.8 661.5L1289.7 661.5L1291.0 661.5L1291.0 663.3L1292.3 663.3L1292.3 661.5L1293.6 661.5L1293.6 659.7L1294.9 659.7L1296.2 659.7L1296.2 658.0L1300.1 658.0L1301.4 658.0L1301.4 656.2L1302.7 656.2L1302.7 652.6L1304.0 652.6L1304.0 649.1L1305.3 649.1L1305.3 647.3L1314.4 647.3L1315.7 647.3L1315.7 645.5L1318.3 645.5L1319.6 645.5L1319.6 638.4L1320.9 638.4L1320.9 636.6L1322.2 636.6L1322.2 634.8L1328.7 634.8L1330.0 634.8L1330.0 633.1L1331.3 633.1L1331.3 631.3L1333.9 631.3L1335.2 631.3L1335.2 624.2L1341.7 624.2L1343.0 624.2L1343.0 622.4L1348.3 622.4L1349.6 622.4L1349.6 627.7L1350.9 627.7L1350.9 629.5L1353.5 629.5L1354.8 629.5L1354.8 627.7L1356.1 627.7L1357.4 627.7L1357.4 625.9L1378.2 625.9L1379.5 625.9L1379.5 624.2L1380.8 624.2L1382.1 624.2L1382.1 617.0L1383.4 617.0L1383.4 615.3L1384.7 615.3L1384.7 613.5L1391.2 613.5L1392.5 613.5L1392.5 611.7L1393.8 611.7L1395.1 611.7L1395.1 609.9L1396.4 609.9L1396.4 611.7L1399.0 611.7L1400.3 611.7L1400.3 609.9L1401.6 609.9L1402.9 609.9L1402.9 608.1L1404.2 608.1L1405.5 608.1L1405.5 606.4L1406.8 606.4L1406.8 604.6L1408.1 604.6L1408.1 602.8L1413.3 602.8L1414.6 602.8L1414.6 601.0L1415.9 601.0L1415.9 597.5L1419.8 597.5L1421.1 597.5L1421.1 593.9L1422.4 593.9L1422.4 595.7L1425.0 595.7L1426.3 595.7L1426.3 597.5L1427.6 597.5L1427.6 595.7L1428.9 595.7L1428.9 590.4L1432.8 590.4L1434.1 590.4L1434.1 576.1L1435.4 576.1L1436.7 576.1L1436.7 574.3L1438.1 574.3L1438.1 576.1L1440.7 576.1L1442.0 576.1L1442.0 572.6L1443.3 572.6L1444.6 572.6L1444.6 576.1L1445.9 576.1L1447.2 576.1L1447.2 574.3L1448.5 574.3L1448.5 572.6L1449.8 572.6L1449.8 570.8L1456.3 570.8L1457.6 570.8L1457.6 572.6L1461.5 572.6L1462.8 572.6L1462.8 574.3L1466.7 574.3L1468.0 574.3L1468.0 570.8L1469.3 570.8L1470.6 570.8L1470.6 572.6L1471.9 572.6L1473.2 572.6L1473.2 574.3L1475.8 574.3L1477.1 574.3L1477.1 576.1L1478.4 576.1L1479.7 576.1L1479.7 572.6L1481.0 572.6L1481.0 565.5L1490.1 565.5L1491.4 565.5L1491.4 563.7L1499.2 563.7L1500.5 563.7L1500.5 565.5L1501.8 565.5L1501.8 567.2L1503.1 567.2L1504.4 567.2L1504.4 565.5L1510.9 565.5L1512.2 565.5L1512.2 563.7L1516.1 563.7L1517.4 563.7L1517.4 565.5L1529.2 565.5L1530.5 565.5L1530.5 567.2L1531.8 567.2L1531.8 569.0L1533.1 569.0L1534.4 569.0L1534.4 567.2L1535.7 567.2L1535.7 565.5L1538.3 565.5L1539.6 565.5L1539.6 567.2L1543.5 567.2L1544.8 567.2L1544.8 569.0L1546.1 569.0L1546.1 570.8L1547.4 570.8L1548.7 570.8L1548.7 565.5L1553.9 565.5L1555.2 565.5L1555.2 567.2L1568.2 567.2L1569.5 567.2L1569.5 565.5L1570.8 565.5L1572.1 565.5L1572.1 561.9L1573.4 561.9L1573.4 563.7L1576.0 563.7L1577.3 563.7L1577.3 540.5L1579.9 540.5L1581.2 540.5L1581.2 538.8L1582.5 538.8L1582.5 537.0L1583.8 537.0L1583.8 535.2L1585.1 535.2L1585.1 524.5L1586.4 524.5L1587.7 524.5L1587.7 519.2L1590.3 519.2L1591.6 519.2L1591.6 521.0L1592.9 521.0L1592.9 519.2L1602.0 519.2L1603.3 519.2L1603.3 522.8L1604.6 522.8L1604.6 524.5L1607.2 524.5L1608.5 524.5L1608.5 533.4L1618.9 533.4L1620.3 533.4L1620.3 535.2L1621.6 535.2L1622.9 535.2L1622.9 537.0L1624.2 537.0L1624.2 540.5L1626.8 540.5L1628.1 540.5L1628.1 542.3L1629.4 542.3L1630.7 542.3L1630.7 545.9L1632.0 545.9L1632.0 549.4L1633.3 549.4L1633.3 551.2L1637.2 551.2L1638.5 551.2L1638.5 553.0L1639.8 553.0L1639.8 554.8L1641.1 554.8L1641.1 556.6L1642.4 556.6L1643.7 556.6L1643.7 558.3L1645.0 558.3L1645.0 563.7L1646.3 563.7L1646.3 565.5L1647.6 565.5L1647.6 567.2L1648.9 567.2L1648.9 569.0L1651.5 569.0L1652.8 569.0L1652.8 570.8L1654.1 570.8L1654.1 576.1L1655.4 576.1L1655.4 577.9L1658.0 577.9L1659.3 577.9L1659.3 581.5L1660.6 581.5L1660.6 586.8L1672.3 586.8L1673.6 586.8L1673.6 588.6L1676.2 588.6L1677.5 588.6L1677.5 590.4L1681.4 590.4L1682.7 590.4L1682.7 592.1L1684.0 592.1L1685.3 592.1L1685.3 593.9L1686.6 593.9L1686.6 595.7L1690.5 595.7L1691.8 595.7L1691.8 597.5L1693.1 597.5L1693.1 601.0L1694.4 601.0L1694.4 608.1L1698.3 608.1L1699.6 608.1L1699.6 609.9L1706.1 609.9L1707.4 609.9L1707.4 611.7L1708.7 611.7L1708.7 617.0L1710.0 617.0L1710.0 620.6L1711.4 620.6L1712.7 620.6L1712.7 622.4L1719.2 622.4L1720.5 622.4L1720.5 624.2L1721.8 624.2L1721.8 625.9L1724.4 625.9L1725.7 625.9L1725.7 634.8L1729.6 634.8L1730.9 634.8L1730.9 636.6L1732.2 636.6L1733.5 636.6L1733.5 638.4L1736.1 638.4L1737.4 638.4L1737.4 640.2L1742.6 640.2L1743.9 640.2L1743.9 642.0L1746.5 642.0L1747.8 642.0L1747.8 643.7L1751.7 643.7L1753.0 643.7L1753.0 645.5L1758.2 645.5L1759.5 645.5L1759.5 647.3L1766.0 647.3L1767.3 647.3L1767.3 649.1L1768.6 649.1L1769.9 649.1L1769.9 652.6L1771.2 652.6L1771.2 654.4L1772.5 654.4L1772.5 658.0L1773.8 658.0L1773.8 661.5L1775.1 661.5L1775.1 665.1L1781.6 665.1L1782.9 665.1L1782.9 666.9L1784.2 666.9L1784.2 670.4L1785.5 670.4L1785.5 672.2L1790.7 672.2L1792.0 672.2L1792.0 674.0L1793.3 674.0L1794.6 674.0L1794.6 675.8L1795.9 675.8L1797.2 675.8L1797.2 677.5L1799.8 677.5L1801.1 677.5L1801.1 679.3L1802.5 679.3L1803.8 679.3L1803.8 681.1L1805.1 681.1L1806.4 681.1L1806.4 688.2L1810.3 688.2L1811.6 688.2L1811.6 691.8L1816.8 691.8L1818.1 691.8L1818.1 693.5L1819.4 693.5L1819.4 697.1L1820.7 697.1L1820.7 698.9L1822.0 698.9L1823.3 698.9L1823.3 700.7L1824.6 700.7L1824.6 714.9L1827.2 714.9L1828.5 714.9L1828.5 716.7L1829.8 716.7L1831.1 716.7L1831.1 718.5L1832.4 718.5L1832.4 722.0L1833.7 722.0L1835.0 722.0L1835.0 723.8L1836.3 723.8L1837.6 723.8L1837.6 725.6L1838.9 725.6L1838.9 727.4L1840.2 727.4L1840.2 729.1L1841.5 729.1L1842.8 729.1L1842.8 730.9L1853.2 730.9L1854.5 730.9L1854.5 732.7L1857.1 732.7L1858.4 732.7L1858.4 736.2L1868.8 736.2L1870.1 736.2L1870.1 738.0L1871.4 738.0L1871.4 746.9L1872.7 746.9L1874.0 746.9L1874.0 748.7L1877.9 748.7L1879.2 748.7L1879.2 750.5L1880.5 750.5L1881.8 750.5L1881.8 754.0L1887.0 754.0L1888.3 754.0L1888.3 755.8L1893.6 755.8L1894.9 755.8L1894.9 757.6L1896.2 757.6L1896.2 759.4L1897.5 759.4L1898.8 759.4L1898.8 761.2L1901.4 761.2L1902.7 761.2L1902.7 762.9L1905.3 762.9L1906.6 762.9L1906.6 764.7L1920.9 764.7L1922.2 764.7L1922.2 766.5L1923.5 766.5L1924.8 766.5L1924.8 768.3L1926.1 768.3L1927.4 768.3L1927.4 770.1L1930.0 770.1L1931.3 770.1L1931.3 771.8L1933.9 771.8L1935.2 771.8L1935.2 773.6L1936.5 773.6L1936.5 777.2L1937.8 777.2L1937.8 779.0L1939.1 779.0L1939.1 780.7L1941.7 780.7L1943.0 780.7L1943.0 782.5L1944.3 782.5L1945.6 782.5L1945.6 784.3L1958.6 784.3L1959.9 784.3L1959.9 786.1L1961.2 786.1L1961.2 787.8L1962.5 787.8L1962.5 791.4L1963.8 791.4L1963.8 793.2L1965.1 793.2L1966.4 793.2L1966.4 814.5L1967.7 814.5L1967.7 816.3L1970.3 816.3L1971.6 816.3L1971.6 818.1L1972.9 818.1L1974.2 818.1L1974.2 821.6L1975.5 821.6L1975.5 832.3L1976.8 832.3L1978.1 832.3L1978.1 835.9L1979.4 835.9L1979.4 837.7L1980.7 837.7L1982.0 837.7L1982.0 839.4L1983.3 839.4L1984.7 839.4L1984.7 841.2L1986.0 841.2L1987.3 841.2L1987.3 843.0L1988.6 843.0L2141.0 843.0" stroke="#ffff00" stroke-width="1.4"/>
<path d="M271.8 843.0L428.1 843.0L432.0 843.0L433.3 843.0L433.3 837.7L436.0 837.7L437.3 837.7L437.3 835.9L438.6 835.9L438.6 834.1L439.9 834.1L439.9 832.3L441.2 832.3L442.5 832.3L442.5 830.5L446.4 830.5L447.7 830.5L447.7 828.8L449.0 828.8L450.3 828.8L450.3 827.0L451.6 827.0L451.6 821.6L456.8 821.6L458.1 821.6L458.1 819.9L463.3 819.9L464.6 819.9L464.6 816.3L468.5 816.3L469.8 816.3L469.8 814.5L472.4 814.5L473.7 814.5L473.7 812.8L475.0 812.8L476.3 812.8L476.3 811.0L485.4 811.0L486.7 811.0L486.7 809.2L491.9 809.2L493.2 809.2L493.2 807.4L494.5 807.4L494.5 805.6L495.8 805.6L495.8 803.9L499.7 803.9L501.0 803.9L501.0 798.5L502.3 798.5L502.3 789.6L503.6 789.6L503.6 787.8L504.9 787.8L506.2 787.8L506.2 786.1L516.6 786.1L517.9 786.1L517.9 784.3L519.2 784.3L520.5 784.3L520.5 779.0L521.8 779.0L523.1 779.0L523.1 777.2L528.4 777.2L529.7 777.2L529.7 775.4L531.0 775.4L531.0 773.6L534.9 773.6L536.2 773.6L536.2 771.8L538.8 771.8L540.1 771.8L540.1 770.1L559.6 770.1L560.9 770.1L560.9 768.3L562.2 768.3L563.5 768.3L563.5 766.5L564.8 766.5L566.1 766.5L566.1 764.7L567.4 764.7L567.4 762.9L568.7 762.9L568.7 761.2L571.3 761.2L572.6 761.2L572.6 759.4L579.1 759.4L580.4 759.4L580.4 755.8L581.7 755.8L581.7 750.5L583.0 750.5L583.0 748.7L586.9 748.7L588.2 748.7L588.2 746.9L598.6 746.9L599.9 746.9L599.9 745.1L605.1 745.1L606.4 745.1L606.4 743.4L607.7 743.4L607.7 739.8L609.0 739.8L609.0 738.0L614.2 738.0L615.5 738.0L615.5 736.2L628.6 736.2L629.9 736.2L629.9 734.5L637.7 734.5L639.0 734.5L639.0 732.7L640.3 732.7L640.3 730.9L650.7 730.9L652.0 730.9L652.0 729.1L653.3 729.1L653.3 727.4L654.6 727.4L654.6 725.6L657.2 725.6L658.5 725.6L658.5 723.8L661.1 723.8L662.4 723.8L662.4 722.0L666.3 722.0L667.6 722.0L667.6 720.2L668.9 720.2L668.9 718.5L670.2 718.5L670.2 716.7L672.8 716.7L674.1 716.7L674.1 714.9L676.7 714.9L678.0 714.9L678.0 713.1L679.3 713.1L680.6 713.1L680.6 711.3L681.9 711.3L681.9 709.6L687.1 709.6L688.4 709.6L688.4 707.8L693.6 707.8L694.9 707.8L694.9 706.0L697.5 706.0L698.8 706.0L698.8 704.2L701.4 704.2L702.7 704.2L702.7 698.9L704.0 698.9L704.0 697.1L705.3 697.1L705.3 695.3L706.6 695.3L707.9 695.3L707.9 693.5L709.3 693.5L709.3 691.8L710.6 691.8L711.9 691.8L711.9 690.0L713.2 690.0L714.5 690.0L714.5 688.2L715.8 688.2L717.1 688.2L717.1 686.4L718.4 686.4L719.7 686.4L719.7 684.7L723.6 684.7L724.9 684.7L724.9 682.9L728.8 682.9L730.1 682.9L730.1 679.3L732.7 679.3L734.0 679.3L734.0 677.5L737.9 677.5L739.2 677.5L739.2 675.8L740.5 675.8L740.5 674.0L744.4 674.0L745.7 674.0L745.7 672.2L750.9 672.2L752.2 672.2L752.2 670.4L758.7 670.4L760.0 670.4L760.0 668.6L762.6 668.6L763.9 668.6L763.9 666.9L765.2 666.9L765.2 665.1L771.7 665.1L773.0 665.1L773.0 663.3L776.9 663.3L778.2 663.3L778.2 661.5L784.7 661.5L786.0 661.5L786.0 658.0L788.6 658.0L789.9 658.0L789.9 656.2L793.8 656.2L795.1 656.2L795.1 654.4L804.3 654.4L805.6 654.4L805.6 652.6L806.9 652.6L808.2 652.6L808.2 650.9L813.4 650.9L814.7 650.9L814.7 649.1L821.2 649.1L822.5 649.1L822.5 647.3L823.8 647.3L823.8 649.1L825.1 649.1L825.1 652.6L827.7 652.6L829.0 652.6L829.0 656.2L831.6 656.2L832.9 656.2L832.9 654.4L834.2 654.4L835.5 654.4L835.5 652.6L840.7 652.6L842.0 652.6L842.0 654.4L843.3 654.4L843.3 656.2L848.5 656.2L849.8 656.2L849.8 658.0L860.2 658.0L861.5 658.0L861.5 659.7L866.7 659.7L868.0 659.7L868.0 658.0L869.3 658.0L869.3 656.2L875.8 656.2L877.1 656.2L877.1 650.9L882.3 650.9L883.6 650.9L883.6 649.1L884.9 649.1L884.9 647.3L886.2 647.3L886.2 649.1L887.5 649.1L888.8 649.1L888.8 647.3L890.1 647.3L890.1 645.5L891.5 645.5L891.5 650.9L892.8 650.9L892.8 661.5L894.1 661.5L894.1 663.3L908.4 663.3L909.7 663.3L909.7 666.9L911.0 666.9L911.0 668.6L914.9 668.6L916.2 668.6L916.2 663.3L918.8 663.3L920.1 663.3L920.1 665.1L921.4 665.1L922.7 665.1L922.7 663.3L938.3 663.3L939.6 663.3L939.6 661.5L940.9 661.5L940.9 659.7L942.2 659.7L942.2 658.0L943.5 658.0L944.8 658.0L944.8 656.2L955.2 656.2L956.5 656.2L956.5 652.6L959.1 652.6L960.4 652.6L960.4 656.2L969.5 656.2L970.8 656.2L970.8 658.0L972.1 658.0L972.1 659.7L973.4 659.7L973.4 661.5L974.7 661.5L974.7 663.3L995.6 663.3L996.9 663.3L996.9 665.1L998.2 665.1L999.5 665.1L999.5 670.4L1003.4 670.4L1004.7 670.4L1004.7 665.1L1006.0 665.1L1006.0 663.3L1007.3 663.3L1007.3 661.5L1008.6 661.5L1009.9 661.5L1009.9 663.3L1012.5 663.3L1013.8 663.3L1013.8 661.5L1019.0 661.5L1020.3 661.5L1020.3 659.7L1028.1 659.7L1029.4 659.7L1029.4 658.0L1033.3 658.0L1034.6 658.0L1034.6 654.4L1035.9 654.4L1037.2 654.4L1037.2 656.2L1038.5 656.2L1039.8 656.2L1039.8 658.0L1045.0 658.0L1046.3 658.0L1046.3 659.7L1051.5 659.7L1052.8 659.7L1052.8 661.5L1054.1 661.5L1055.4 661.5L1055.4 659.7L1056.7 659.7L1056.7 652.6L1058.0 652.6L1059.3 652.6L1059.3 658.0L1061.9 658.0L1063.2 658.0L1063.2 659.7L1067.1 659.7L1068.4 659.7L1068.4 656.2L1071.0 656.2L1072.3 656.2L1072.3 661.5L1081.5 661.5L1082.8 661.5L1082.8 663.3L1090.6 663.3L1091.9 663.3L1091.9 665.1L1093.2 665.1L1093.2 670.4L1094.5 670.4L1094.5 672.2L1097.1 672.2L1098.4 672.2L1098.4 674.0L1099.7 674.0L1099.7 672.2L1102.3 672.2L1103.6 672.2L1103.6 674.0L1106.2 674.0L1107.5 674.0L1107.5 675.8L1108.8 675.8L1108.8 677.5L1110.1 677.5L1111.4 677.5L1111.4 674.0L1112.7 674.0L1114.0 674.0L1114.0 675.8L1119.2 675.8L1120.5 675.8L1120.5 677.5L1121.8 677.5L1121.8 679.3L1123.1 679.3L1124.4 679.3L1124.4 677.5L1125.7 677.5L1127.0 677.5L1127.0 679.3L1128.3 679.3L1129.6 679.3L1129.6 681.1L1133.5 681.1L1134.8 681.1L1134.8 682.9L1140.0 682.9L1141.3 682.9L1141.3 684.7L1147.8 684.7L1149.1 684.7L1149.1 686.4L1151.7 686.4L1153.0 686.4L1153.0 684.7L1154.3 684.7L1154.3 686.4L1155.6 686.4L1155.6 688.2L1167.4 688.2L1168.7 688.2L1168.7 690.0L1170.0 690.0L1170.0 688.2L1173.9 688.2L1175.2 688.2L1175.2 690.0L1176.5 690.0L1176.5 691.8L1180.4 691.8L1181.7 691.8L1181.7 693.5L1186.9 693.5L1188.2 693.5L1188.2 695.3L1189.5 695.3L1190.8 695.3L1190.8 693.5L1196.0 693.5L1197.3 693.5L1197.3 695.3L1198.6 695.3L1199.9 695.3L1199.9 690.0L1201.2 690.0L1202.5 690.0L1202.5 688.2L1203.8 688.2L1203.8 686.4L1205.1 686.4L1205.1 682.9L1207.7 682.9L1209.0 682.9L1209.0 681.1L1211.6 681.1L1212.9 681.1L1212.9 684.7L1214.2 684.7L1214.2 682.9L1223.3 682.9L1224.6 682.9L1224.6 684.7L1227.2 684.7L1228.5 684.7L1228.5 686.4L1229.8 686.4L1229.8 688.2L1244.1 688.2L1245.4 688.2L1245.4 690.0L1248.0 690.0L1249.3 690.0L1249.3 688.2L1251.9 688.2L1253.2 688.2L1253.2 690.0L1254.5 690.0L1254.5 688.2L1257.2 688.2L1258.5 688.2L1258.5 690.0L1259.8 690.0L1259.8 693.5L1261.1 693.5L1262.4 693.5L1262.4 691.8L1263.7 691.8L1263.7 693.5L1265.0 693.5L1266.3 693.5L1266.3 695.3L1267.6 695.3L1267.6 698.9L1268.9 698.9L1270.2 698.9L1270.2 695.3L1272.8 695.3L1274.1 695.3L1274.1 697.1L1275.4 697.1L1275.4 698.9L1276.7 698.9L1278.0 698.9L1278.0 697.1L1279.3 697.1L1280.6 697.1L1280.6 700.7L1281.9 700.7L1283.2 700.7L1283.2 698.9L1284.5 698.9L1285.8 698.9L1285.8 697.1L1296.2 697.1L1297.5 697.1L1297.5 698.9L1304.0 698.9L1305.3 698.9L1305.3 700.7L1306.6 700.7L1306.6 702.4L1307.9 702.4L1309.2 702.4L1309.2 704.2L1313.1 704.2L1314.4 704.2L1314.4 706.0L1315.7 706.0L1317.0 706.0L1317.0 707.8L1323.5 707.8L1324.8 707.8L1324.8 706.0L1328.7 706.0L1330.0 706.0L1330.0 704.2L1331.3 704.2L1332.6 704.2L1332.6 707.8L1333.9 707.8L1335.2 707.8L1335.2 709.6L1340.4 709.6L1341.7 709.6L1341.7 707.8L1347.0 707.8L1348.3 707.8L1348.3 711.3L1349.6 711.3L1349.6 713.1L1352.2 713.1L1353.5 713.1L1353.5 714.9L1354.8 714.9L1356.1 714.9L1356.1 707.8L1361.3 707.8L1362.6 707.8L1362.6 709.6L1367.8 709.6L1369.1 709.6L1369.1 707.8L1373.0 707.8L1374.3 707.8L1374.3 706.0L1375.6 706.0L1375.6 704.2L1379.5 704.2L1380.8 704.2L1380.8 702.4L1387.3 702.4L1388.6 702.4L1388.6 700.7L1389.9 700.7L1389.9 698.9L1393.8 698.9L1395.1 698.9L1395.1 700.7L1396.4 700.7L1396.4 702.4L1397.7 702.4L1397.7 704.2L1400.3 704.2L1401.6 704.2L1401.6 702.4L1402.9 702.4L1404.2 702.4L1404.2 704.2L1405.5 704.2L1405.5 706.0L1419.8 706.0L1421.1 706.0L1421.1 707.8L1425.0 707.8L1426.3 707.8L1426.3 709.6L1430.2 709.6L1431.5 709.6L1431.5 706.0L1438.1 706.0L1439.4 706.0L1439.4 707.8L1445.9 707.8L1447.2 707.8L1447.2 714.9L1453.7 714.9L1455.0 714.9L1455.0 716.7L1456.3 716.7L1456.3 714.9L1458.9 714.9L1460.2 714.9L1460.2 713.1L1461.5 713.1L1462.8 713.1L1462.8 711.3L1464.1 711.3L1465.4 711.3L1465.4 706.0L1469.3 706.0L1470.6 706.0L1470.6 704.2L1473.2 704.2L1474.5 704.2L1474.5 702.4L1477.1 702.4L1478.4 702.4L1478.4 698.9L1488.8 698.9L1490.1 698.9L1490.1 700.7L1491.4 700.7L1491.4 702.4L1497.9 702.4L1499.2 702.4L1499.2 704.2L1500.5 704.2L1500.5 706.0L1512.2 706.0L1513.5 706.0L1513.5 707.8L1534.4 707.8L1535.7 707.8L1535.7 706.0L1540.9 706.0L1542.2 706.0L1542.2 707.8L1544.8 707.8L1546.1 707.8L1546.1 706.0L1561.7 706.0L1563.0 706.0L1563.0 704.2L1564.3 704.2L1564.3 706.0L1581.2 706.0L1582.5 706.0L1582.5 707.8L1585.1 707.8L1586.4 707.8L1586.4 704.2L1589.0 704.2L1590.3 704.2L1590.3 709.6L1592.9 709.6L1594.2 709.6L1594.2 711.3L1595.5 711.3L1595.5 716.7L1599.4 716.7L1600.7 716.7L1600.7 718.5L1605.9 718.5L1607.2 718.5L1607.2 720.2L1611.1 720.2L1612.4 720.2L1612.4 722.0L1621.6 722.0L1622.9 722.0L1622.9 723.8L1625.5 723.8L1626.8 723.8L1626.8 725.6L1637.2 725.6L1638.5 725.6L1638.5 727.4L1642.4 727.4L1643.7 727.4L1643.7 729.1L1651.5 729.1L1652.8 729.1L1652.8 730.9L1658.0 730.9L1659.3 730.9L1659.3 732.7L1663.2 732.7L1664.5 732.7L1664.5 734.5L1665.8 734.5L1665.8 736.2L1667.1 736.2L1667.1 738.0L1668.4 738.0L1668.4 739.8L1669.7 739.8L1669.7 741.6L1671.0 741.6L1672.3 741.6L1672.3 743.4L1676.2 743.4L1677.5 743.4L1677.5 745.1L1697.0 745.1L1698.3 745.1L1698.3 746.9L1704.8 746.9L1706.1 746.9L1706.1 748.7L1714.0 748.7L1715.3 748.7L1715.3 752.3L1717.9 752.3L1719.2 752.3L1719.2 754.0L1729.6 754.0L1730.9 754.0L1730.9 755.8L1732.2 755.8L1733.5 755.8L1733.5 757.6L1736.1 757.6L1737.4 757.6L1737.4 759.4L1738.7 759.4L1738.7 761.2L1745.2 761.2L1746.5 761.2L1746.5 768.3L1754.3 768.3L1755.6 768.3L1755.6 770.1L1758.2 770.1L1759.5 770.1L1759.5 771.8L1763.4 771.8L1764.7 771.8L1764.7 775.4L1766.0 775.4L1766.0 777.2L1768.6 777.2L1769.9 777.2L1769.9 779.0L1775.1 779.0L1776.4 779.0L1776.4 780.7L1779.0 780.7L1780.3 780.7L1780.3 786.1L1782.9 786.1L1784.2 786.1L1784.2 787.8L1788.1 787.8L1789.4 787.8L1789.4 789.6L1799.8 789.6L1801.1 789.6L1801.1 791.4L1810.3 791.4L1811.6 791.4L1811.6 793.2L1819.4 793.2L1820.7 793.2L1820.7 795.0L1822.0 795.0L1822.0 798.5L1829.8 798.5L1831.1 798.5L1831.1 800.3L1848.0 800.3L1849.3 800.3L1849.3 802.1L1850.6 802.1L1850.6 807.4L1854.5 807.4L1855.8 807.4L1855.8 814.5L1861.0 814.5L1862.3 814.5L1862.3 816.3L1863.6 816.3L1863.6 818.1L1867.5 818.1L1868.8 818.1L1868.8 823.4L1879.2 823.4L1880.5 823.4L1880.5 825.2L1906.6 825.2L1907.9 825.2L1907.9 827.0L1928.7 827.0L1930.0 827.0L1930.0 828.8L1935.2 828.8L1936.5 828.8L1936.5 830.5L1937.8 830.5L1939.1 830.5L1939.1 832.3L1944.3 832.3L1945.6 832.3L1945.6 834.1L1948.2 834.1L1949.5 834.1L1949.5 835.9L1958.6 835.9L1959.9 835.9L1959.9 837.7L1975.5 837.7L1976.8 837.7L1976.8 839.4L1978.1 839.4L1978.1 841.2L1986.0 841.2L1987.3 841.2L1987.3 843.0L1988.6 843.0L2141.0 843.0" stroke="#ffa500" stroke-width="1.4"/>
</g>
<g fill="none"><path d="M428.3 843V202.50M1987.75 843V191.82" stroke="#0000ff" stroke-width="3"/><path d="M428.6 843V474.71M1987.7 843V469.38" stroke="#a020f0" stroke-width="1.4"/></g>
<rect x="430.2" y="841" width="1555.8" height="1" fill="#b9b9ff"/>
<rect x="430.2" y="842" width="1555.8" height="1" fill="#4a4aff"/>
<rect x="430.2" y="843" width="1555.8" height="1" fill="#2b37a6"/>
<rect x="430.2" y="844" width="1555.8" height="1" fill="#8a8a8a"/>
<rect x="272.4" y="841" width="146.6" height="1" fill="#e2a9a4"/>
<rect x="272.4" y="842" width="146.6" height="1" fill="#ff8c00"/>
<rect x="272.4" y="843" width="146.6" height="1" fill="#8a5a10"/>
<rect x="272.4" y="844" width="146.6" height="1" fill="#858585"/>
<rect x="1992.0" y="841" width="148.8" height="1" fill="#e2a9a4"/>
<rect x="1992.0" y="842" width="148.8" height="1" fill="#ff8c00"/>
<rect x="1992.0" y="843" width="148.8" height="1" fill="#8a5a10"/>
<rect x="1992.0" y="844" width="148.8" height="1" fill="#858585"/>
<text x="299.00" y="939.5" font-size="45" text-anchor="middle">1299400</text>
<text x="559.29" y="939.5" font-size="45" text-anchor="middle">1299600</text>
<text x="819.57" y="939.5" font-size="45" text-anchor="middle">1299800</text>
<text x="1079.86" y="939.5" font-size="45" text-anchor="middle">1300000</text>
<text x="1340.14" y="939.5" font-size="45" text-anchor="middle">1300200</text>
<text x="1600.43" y="939.5" font-size="45" text-anchor="middle">1300400</text>
<text x="1860.71" y="939.5" font-size="45" text-anchor="middle">1300600</text>
<text x="2121.00" y="939.5" font-size="45" text-anchor="middle">1300800</text>
<text transform="translate(209.0 843.90) rotate(-90)" font-size="45" text-anchor="middle">0</text>
<text transform="translate(209.0 737.15) rotate(-90)" font-size="45" text-anchor="middle">20</text>
<text transform="translate(209.0 630.40) rotate(-90)" font-size="45" text-anchor="middle">40</text>
<text transform="translate(209.0 523.65) rotate(-90)" font-size="45" text-anchor="middle">60</text>
<text transform="translate(209.0 416.90) rotate(-90)" font-size="45" text-anchor="middle">80</text>
<text transform="translate(209.0 310.15) rotate(-90)" font-size="45" text-anchor="middle">100</text>
<text transform="translate(209.0 96.65) rotate(-90)" font-size="45" text-anchor="middle">140</text>
<text x="1207" y="1046.0" font-size="44.8" text-anchor="middle">Coordinate in Reference Genome</text>
<text transform="translate(102.0 451) rotate(-90)" font-size="44.8" text-anchor="middle">Read Coverage Depth</text>
<rect x="268.0" y="1123.3" width="24.6" height="20.5" fill="#0000ff" stroke="#000" stroke-width="1.5"/>
<text x="321.3" y="1144.5" font-size="34">unique total</text>
<rect x="575.0" y="1123.3" width="24.6" height="20.5" fill="#00ffff" stroke="#000" stroke-width="1.5"/>
<text x="628.3" y="1144.5" font-size="34">unique top</text>
<rect x="882.0" y="1123.3" width="24.6" height="20.5" fill="#a020f0" stroke="#000" stroke-width="1.5"/>
<text x="935.3" y="1144.5" font-size="34">unique bottom</text>
<rect x="1189.0" y="1123.3" width="24.6" height="20.5" fill="#ff0000" stroke="#000" stroke-width="1.5"/>
<text x="1241.1" y="1144.5" font-size="34">repeat total</text>
<rect x="1496.0" y="1123.3" width="24.6" height="20.5" fill="#ffff00" stroke="#000" stroke-width="1.5"/>
<text x="1548.1" y="1144.5" font-size="34">repeat top</text>
<rect x="1803.0" y="1123.3" width="24.6" height="20.5" fill="#ffa500" stroke="#000" stroke-width="1.5"/>
<text x="1855.1" y="1144.5" font-size="34">repeat bottom</text>
<rect x="1166" y="1119.5" width="1.2" height="1.2" fill="#333"/>
</svg></body></html>
